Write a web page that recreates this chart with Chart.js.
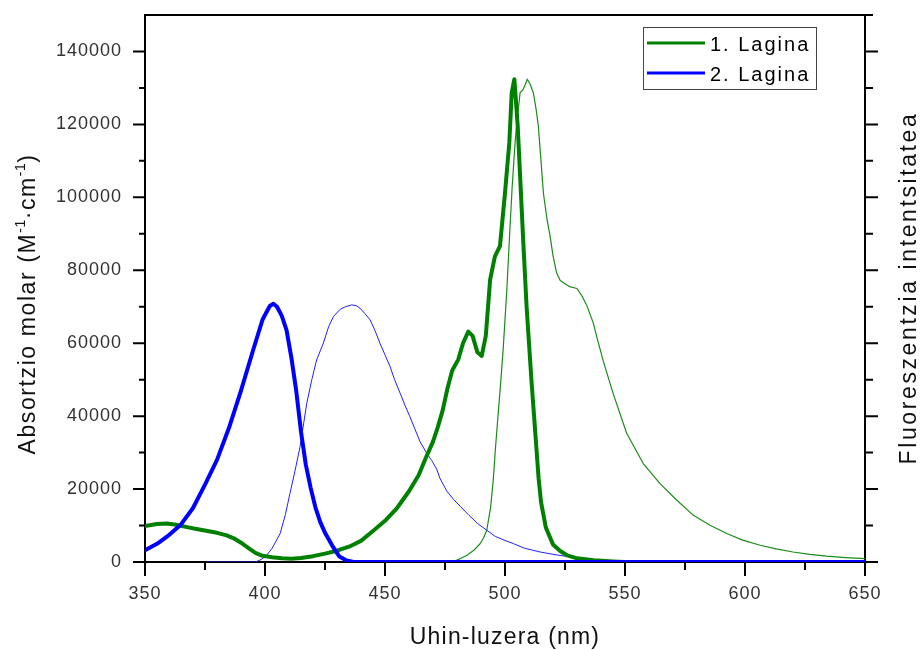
<!DOCTYPE html>
<html>
<head>
<meta charset="utf-8">
<script src="https://cdn.jsdelivr.net/npm/chart.js@4/dist/chart.umd.min.js"></script>
<style>
html,body{margin:0;padding:0;background:#fff;}
#wrap{width:920px;height:650px;position:relative;}
</style>
</head>
<body>
<div id="wrap"><canvas id="c" width="920" height="650"></canvas></div>
<script>
// ---- Axis ticks ----
const wavelengthTicks = [350, 400, 450, 500, 550, 600, 650];
const wavelengthMinorTicks = [375, 425, 475, 525, 575, 625];
const absorptionTicks = [0, 20000, 40000, 60000, 80000, 100000, 120000, 140000];
const absorptionMinorTicks = [10000, 30000, 50000, 70000, 90000, 110000, 130000];

// ---- Series: 1. Lagina, absorption (thick green) ----
const lagina1AbsWl = [350,355,359,363,368,372,376,380,384,387,390,393,396,399,403,407,411,415,420,425,430,435,440,445,450,455,460,464,467,470,472,474,476,478,480.5,482.5,484.7,486.5,488.5,490.3,492,493.8,495.8,497.9,500,501.8,502.8,503.9,505.3,506.3,507.6,509,510,511,512,513,514,515,517,520,523,526,530,537,545,550,650];
const lagina1AbsVal = [9900,10400,10550,10200,9500,9000,8500,8000,7300,6500,5300,3900,2500,1700,1300,1000,900,1100,1600,2300,3100,4200,5800,8500,11300,14800,19400,23800,28500,33000,37000,41500,47500,52500,55500,60000,63200,62000,57500,56500,62000,77400,83800,86600,101200,115000,128700,132400,119500,105800,88000,70000,60000,50000,41000,32000,23000,16500,9500,4800,3000,1800,1000,500,150,0,0];

// ---- Series: 2. Lagina, absorption (thick blue) ----
const lagina2AbsWl = [350,355,360,365,370,375,380,385,390,395,399,402,403.5,405,407,409,411,413,415,417,419,421,423,425,428,431,434,437,500,650];
const lagina2AbsVal = [3200,5000,7400,10300,14800,21200,28000,36800,47000,58000,66500,70200,70800,70000,67500,63500,56000,47000,35700,26700,20400,15000,11000,8000,4500,1500,400,0,0,0];

// ---- Series: 1. Lagina, fluorescence (thin green) ----
const lagina1EmWl = [478,481,484,487,489.6,491,492.4,494,495.1,496,497.2,498.3,499.3,500.8,502.1,503,504.2,505,506.3,507.5,508.5,509.3,510.5,511.8,513,513.9,515,516,517.5,518.8,520,521.5,523,525,527,530,532,534,536.8,538.2,541,545,550.7,557.6,564.6,571.5,578.5,585.4,592.4,599,606.3,613,620,627,634,642,650];
const lagina1EmVal = [0,800,1800,3200,5000,6500,8700,15000,22500,31000,41000,50000,59000,75000,92000,103000,115000,121000,128700,129500,131000,132400,131000,128700,124000,119500,110000,101200,94000,89300,84000,79300,77200,76300,75500,75000,73000,70500,65500,61800,55000,46300,35300,27000,21500,17000,12800,10100,7800,6000,4600,3600,2750,2100,1600,1200,900];

// ---- Series: 2. Lagina, fluorescence (thin blue) ----
const lagina2EmWl = [376,396,398.5,400.7,403,406.3,408.5,410.4,412.5,414.6,417.4,419.5,421.5,424.3,426.5,428.5,431.3,433.5,436.1,438,439.6,441.5,443.8,445.8,447.9,450,452.1,454,456.3,458.3,460.4,462.5,464.6,467.4,469.5,471.5,473,475.7,478.5,481.3,485,488.5,492.4,496,500,503.5,508,514.6,520,525,530,536,542,550,556];
const lagina2EmVal = [0,0,700,1840,3800,7800,13000,18800,25000,31600,43500,50000,55400,60000,64500,67300,69300,70000,70500,70300,69600,68200,66400,63500,60000,56800,53600,50000,46300,43000,39800,36400,33000,29800,27800,25500,22800,19500,17200,15300,12800,10600,8700,7000,5900,5050,3800,2750,2100,1600,1100,700,400,150,0];

// ---- Labels ----
const seriesNames = ['1. Lagina', '2. Lagina'];
const xTitle = 'Uhin-luzera (nm)';
const yTitleParts = [['Absortzio molar (M', false], ['-1', true], ['·cm', false], ['-1', true], [')', false]];
const y2Title = 'Fluoreszentzia intentsitatea';

const GREEN = '#008000';
const BLUE = '#0000ff';
const FONT = '"Liberation Sans", Arial, sans-serif';

function pts(xs, ys) { return xs.map((x, i) => ({x: x, y: ys[i]})); }

const framePlugin = {
  id: 'frame',
  beforeDraw(chart) {
    chart.ctx.letterSpacing = '1px';
  },
  beforeDatasetsDraw(chart) {
    const ctx = chart.ctx;
    const a = chart.chartArea;
    const xs = chart.scales.x, ys = chart.scales.y;
    ctx.save();
    ctx.letterSpacing = '0px';
    ctx.strokeStyle = '#000';
    ctx.lineWidth = 2;
    ctx.beginPath();
    ctx.moveTo(a.left, a.top); ctx.lineTo(a.right + 8, a.top);
    ctx.moveTo(a.left, a.top - 1); ctx.lineTo(a.left, a.bottom + 1);
    ctx.moveTo(a.right, a.top - 1); ctx.lineTo(a.right, a.bottom + 1);
    ctx.moveTo(a.left - 1, a.bottom); ctx.lineTo(a.right + 1, a.bottom);
    wavelengthTicks.forEach(v => { const p = xs.getPixelForValue(v); ctx.moveTo(p, a.bottom); ctx.lineTo(p, a.bottom + 14); });
    wavelengthMinorTicks.forEach(v => { const p = xs.getPixelForValue(v); ctx.moveTo(p, a.bottom); ctx.lineTo(p, a.bottom + 8); });
    absorptionTicks.forEach(v => { const p = ys.getPixelForValue(v); ctx.moveTo(a.left, p); ctx.lineTo(a.left - 12, p); });
    absorptionMinorTicks.forEach(v => { const p = ys.getPixelForValue(v); ctx.moveTo(a.left, p); ctx.lineTo(a.left - 6, p); });
    absorptionTicks.forEach(v => { const p = ys.getPixelForValue(v); ctx.moveTo(a.right, p); ctx.lineTo(a.right + 13, p); });
    absorptionMinorTicks.forEach(v => { const p = ys.getPixelForValue(v); ctx.moveTo(a.right, p); ctx.lineTo(a.right + 8, p); });
    ctx.stroke();
    ctx.restore();
  },
  afterDraw(chart) {
    const ctx = chart.ctx;
    const a = chart.chartArea;
    ctx.save();
    ctx.fillStyle = '#111';
    ctx.font = '23px ' + FONT;
    ctx.letterSpacing = '1.2px';
    ctx.textAlign = 'center';
    ctx.textBaseline = 'alphabetic';
    ctx.fillText(xTitle, (a.left + a.right) / 2, 644);

    ctx.save();
    ctx.translate(35, 304);
    ctx.rotate(-Math.PI / 2);
    ctx.textAlign = 'left';
    let total = 0;
    const widths = yTitleParts.map(([t, sup]) => {
      ctx.font = (sup ? '14px ' : '23px ') + FONT;
      ctx.letterSpacing = sup ? '0.5px' : '1.6px';
      const w = ctx.measureText(t).width; total += w; return w;
    });
    let x = -total / 2;
    yTitleParts.forEach(([t, sup], i) => {
      ctx.font = (sup ? '14px ' : '23px ') + FONT;
      ctx.letterSpacing = sup ? '0.5px' : '1.6px';
      ctx.fillText(t, x, sup ? -10 : 0);
      x += widths[i];
    });
    ctx.restore();

    ctx.save();
    ctx.translate(916, 288);
    ctx.rotate(-Math.PI / 2);
    ctx.font = '23px ' + FONT;
    ctx.letterSpacing = '2.6px';
    ctx.textAlign = 'center';
    ctx.fillText(y2Title, 0, 0);
    ctx.restore();

    ctx.letterSpacing = '0px';
    ctx.fillStyle = '#fff';
    ctx.fillRect(643, 27, 173, 62);
    ctx.strokeStyle = '#444';
    ctx.lineWidth = 1;
    ctx.strokeRect(643.5, 27.5, 173, 62);
    const rows = [[GREEN, 43, 51], [BLUE, 73, 81]];
    rows.forEach(([col, ly, ty], i) => {
      ctx.strokeStyle = col;
      ctx.lineWidth = 3;
      ctx.beginPath();
      ctx.moveTo(647, ly); ctx.lineTo(705, ly);
      ctx.stroke();
      ctx.fillStyle = '#000';
      ctx.font = '20px ' + FONT;
      ctx.letterSpacing = '2px';
      ctx.textAlign = 'left';
      ctx.fillText(seriesNames[i], 710, ty);
    });
    ctx.restore();
  }
};

const tickFont = {family: FONT, size: 18};

new Chart(document.getElementById('c'), {
  type: 'line',
  data: {
    datasets: [
      {label: seriesNames[0], data: pts(lagina1AbsWl, lagina1AbsVal), borderColor: GREEN, borderWidth: 4, order: 1},
      {label: seriesNames[1], data: pts(lagina2AbsWl, lagina2AbsVal), borderColor: BLUE, borderWidth: 4, order: 0},
      {label: seriesNames[0] + ' (fluoreszentzia)', data: pts(lagina1EmWl, lagina1EmVal), borderColor: '#1a8c1a', borderWidth: 1.2, order: 3},
      {label: seriesNames[1] + ' (fluoreszentzia)', data: pts(lagina2EmWl, lagina2EmVal), borderColor: '#2020ff', borderWidth: 1, order: 2}
    ]
  },
  options: {
    responsive: false,
    animation: false,
    devicePixelRatio: 1,
    layout: {padding: {top: 15, right: 55, left: 0, bottom: 0}},
    elements: {
      point: {radius: 0, hoverRadius: 0},
      line: {tension: 0, fill: false, borderJoinStyle: 'round', borderCapStyle: 'round'}
    },
    plugins: {legend: {display: false}, tooltip: {enabled: false}},
    scales: {
      x: {
        type: 'linear', min: 350, max: 650,
        afterBuildTicks: s => { s.ticks = wavelengthTicks.map(v => ({value: v})); },
        afterFit: s => { s.height = 88; s.paddingLeft = 0; s.paddingRight = 0; },
        grid: {display: false, drawTicks: false},
        border: {display: false},
        ticks: {padding: 21, color: '#333', font: tickFont, maxRotation: 0, autoSkip: false, callback: v => String(v)}
      },
      y: {
        type: 'linear', min: 0, max: 150000,
        afterBuildTicks: s => { s.ticks = absorptionTicks.map(v => ({value: v})); },
        afterFit: s => { s.width = 145; s.paddingTop = 0; s.paddingBottom = 0; },
        grid: {display: false, drawTicks: false},
        border: {display: false},
        ticks: {padding: 23, color: '#333', font: tickFont, autoSkip: false, callback: v => String(v)}
      }
    }
  },
  plugins: [framePlugin]
});
</script>
</body>
</html>
